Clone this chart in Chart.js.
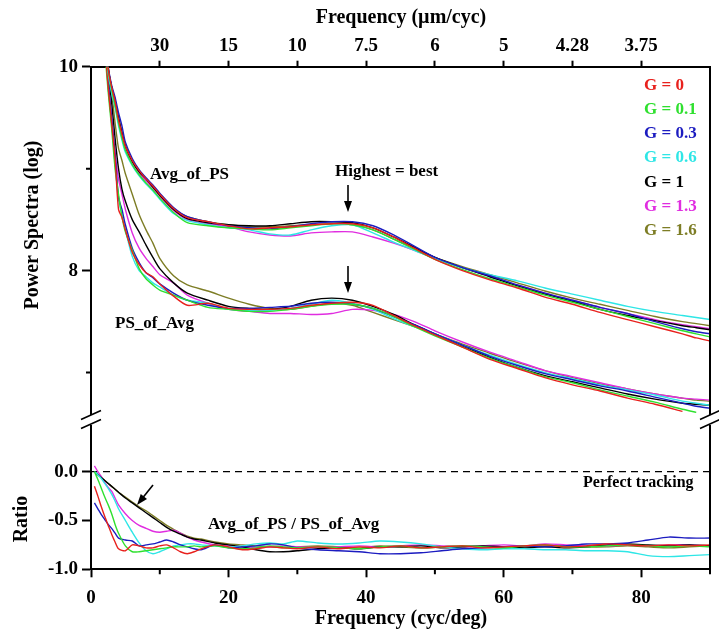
<!DOCTYPE html>
<html>
<head>
<meta charset="utf-8">
<script src="https://cdn.jsdelivr.net/npm/chart.js@4.4.1/dist/chart.umd.min.js"></script>
<style>
  html, body { margin: 0; padding: 0; background: #fff; }
  #wrap { width: 719px; height: 634px; }
</style>
</head>
<body>
<div id="wrap"><canvas id="psd_chart"></canvas></div>
<script>
// ---- data ----
const gains = ['G = 0', 'G = 0.1', 'G = 0.3', 'G = 0.6', 'G = 1', 'G = 1.3', 'G = 1.6'];
const colors = ['#e8211d', '#2fe02f', '#1c1cc0', '#2ee6e6', '#000000', '#e02de0', '#7d7d25'];

// spatial frequency (cyc/deg) for the spectra
const freqPS = [1.5, 2, 2.5, 3, 3.5, 4, 4.5, 5, 6, 7, 8, 9, 10, 12, 14, 17, 20, 23, 26, 29, 32, 35, 38, 41, 44, 47, 50, 54, 58, 62, 66, 70, 74, 78, 82, 86, 88, 90];

// Avg_of_PS (log power)
const avgPS_G0   = [10.9, 10.35, 9.98, 9.8, 9.66, 9.48, 9.34, 9.22, 9.08, 8.98, 8.9, 8.83, 8.75, 8.61, 8.52, 8.48, 8.44, 8.41, 8.42, 8.43, 8.45, 8.46, 8.46, 8.42, 8.33, 8.22, 8.11, 8.0, 7.91, 7.83, 7.74, 7.67, 7.59, 7.52, 7.45, 7.38, 7.34, 7.31];
const avgPS_G01  = [10.9, 10.32, 9.96, 9.78, 9.62, 9.45, 9.3, 9.18, 9.04, 8.94, 8.86, 8.79, 8.71, 8.57, 8.47, 8.44, 8.42, 8.41, 8.4, 8.42, 8.44, 8.46, 8.45, 8.4, 8.31, 8.21, 8.11, 8.01, 7.92, 7.84, 7.76, 7.69, 7.62, 7.55, 7.48, 7.41, 7.38, 7.35];
const avgPS_G03  = [10.9, 10.4, 10.0, 9.82, 9.7, 9.55, 9.42, 9.26, 9.1, 8.99, 8.91, 8.84, 8.76, 8.62, 8.53, 8.48, 8.44, 8.42, 8.41, 8.43, 8.46, 8.48, 8.48, 8.44, 8.35, 8.24, 8.13, 8.03, 7.95, 7.86, 7.78, 7.71, 7.64, 7.58, 7.5, 7.43, 7.4, 7.38];
const avgPS_G06  = [10.9, 10.3, 9.94, 9.74, 9.6, 9.42, 9.28, 9.16, 9.03, 8.93, 8.85, 8.78, 8.7, 8.56, 8.49, 8.45, 8.42, 8.4, 8.36, 8.35, 8.4, 8.44, 8.45, 8.37, 8.28, 8.2, 8.12, 8.03, 7.96, 7.9, 7.83, 7.77, 7.71, 7.65, 7.6, 7.56, 7.54, 7.52];
const avgPS_G1   = [10.9, 10.35, 9.98, 9.8, 9.67, 9.5, 9.35, 9.22, 9.07, 8.97, 8.9, 8.82, 8.74, 8.6, 8.51, 8.47, 8.45, 8.44, 8.44, 8.46, 8.48, 8.48, 8.47, 8.42, 8.33, 8.23, 8.13, 8.03, 7.94, 7.85, 7.77, 7.7, 7.62, 7.56, 7.51, 7.46, 7.44, 7.42];
const avgPS_G13  = [10.9, 10.33, 9.97, 9.78, 9.64, 9.46, 9.32, 9.2, 9.06, 8.96, 8.88, 8.81, 8.73, 8.59, 8.5, 8.46, 8.43, 8.38, 8.35, 8.34, 8.37, 8.38, 8.38, 8.33, 8.27, 8.2, 8.12, 8.03, 7.94, 7.86, 7.78, 7.71, 7.64, 7.58, 7.52, 7.47, 7.45, 7.43];
const avgPS_G16  = [10.9, 10.36, 9.99, 9.8, 9.66, 9.5, 9.36, 9.23, 9.08, 8.98, 8.9, 8.83, 8.75, 8.61, 8.53, 8.48, 8.45, 8.43, 8.43, 8.44, 8.45, 8.46, 8.45, 8.4, 8.31, 8.22, 8.13, 8.04, 7.96, 7.88, 7.8, 7.73, 7.67, 7.61, 7.55, 7.5, 7.48, 7.46];

// PS_of_Avg (log power)
const psAvg_G0   = [11.0, 10.25, 9.8, 9.45, 9.1, 8.6, 8.52, 8.4, 8.18, 8.06, 7.98, 7.94, 7.87, 7.75, 7.66, 7.68, 7.63, 7.62, 7.62, 7.63, 7.66, 7.68, 7.69, 7.66, 7.56, 7.46, 7.37, 7.25, 7.13, 7.04, 6.95, 6.88, 6.82, 6.75, 6.69, 6.62, null, null];
const psAvg_G01  = [11.0, 10.2, 9.75, 9.4, 9.0, 8.75, 8.53, 8.38, 8.2, 8.02, 7.92, 7.86, 7.81, 7.76, 7.71, 7.64, 7.62, 7.6, 7.6, 7.62, 7.65, 7.67, 7.67, 7.63, 7.55, 7.45, 7.36, 7.25, 7.14, 7.05, 6.96, 6.9, 6.83, 6.77, 6.71, 6.64, 6.61, null];
const psAvg_G03  = [11.0, 10.3, 9.85, 9.5, 9.15, 8.72, 8.6, 8.45, 8.22, 8.08, 7.98, 7.93, 7.87, 7.78, 7.71, 7.66, 7.63, 7.63, 7.64, 7.65, 7.68, 7.69, 7.67, 7.63, 7.55, 7.47, 7.38, 7.27, 7.16, 7.07, 6.99, 6.93, 6.87, 6.82, 6.76, 6.7, 6.67, 6.65];
const psAvg_G06  = [11.0, 10.25, 9.8, 9.45, 9.05, 8.7, 8.55, 8.4, 8.14, 8.0, 7.94, 7.88, 7.84, 7.76, 7.71, 7.68, 7.62, 7.61, 7.61, 7.63, 7.67, 7.71, 7.68, 7.62, 7.53, 7.45, 7.38, 7.27, 7.17, 7.08, 7.0, 6.94, 6.88, 6.83, 6.78, 6.72, 6.7, 6.68];
const psAvg_G1   = [11.0, 10.4, 9.95, 9.65, 9.3, 9.0, 8.8, 8.68, 8.5, 8.38, 8.25, 8.13, 8.02, 7.88, 7.78, 7.71, 7.65, 7.63, 7.62, 7.65, 7.71, 7.73, 7.71, 7.65, 7.57, 7.47, 7.38, 7.26, 7.15, 7.05, 6.97, 6.91, 6.85, 6.79, 6.74, 6.7, 6.69, 6.68];
const psAvg_G13  = [11.0, 10.3, 9.85, 9.5, 9.15, 8.9, 8.75, 8.6, 8.37, 8.22, 8.12, 8.04, 7.96, 7.88, 7.76, 7.68, 7.62, 7.6, 7.58, 7.58, 7.57, 7.58, 7.62, 7.61, 7.57, 7.5, 7.41, 7.3, 7.2, 7.11, 7.02, 6.96, 6.9, 6.84, 6.79, 6.75, 6.74, 6.73];
const psAvg_G16  = [11.0, 10.45, 10.0, 9.75, 9.45, 9.2, 9.08, 8.95, 8.75, 8.55, 8.4, 8.27, 8.12, 7.95, 7.86, 7.8, 7.73, 7.67, 7.63, 7.62, 7.65, 7.68, 7.66, 7.59, 7.52, 7.45, 7.38, 7.28, 7.19, 7.1, 7.02, 6.95, 6.89, 6.84, 6.79, 6.75, 6.73, 6.72];

// ratio Avg_of_PS / PS_of_Avg
const freqRatio = [0.5, 1, 1.5, 2, 2.5, 3, 3.5, 4, 5, 6, 7, 8, 9, 10, 11, 12, 13, 14, 15, 16, 18, 20, 22, 24, 26, 28, 30, 33, 36, 39, 42, 45, 48, 51, 54, 57, 60, 63, 66, 69, 72, 75, 78, 81, 84, 87, 90];
const ratio_G0   = [-0.15, -0.25, -0.36, -0.46, -0.55, -0.64, -0.72, -0.79, -0.81, -0.75, -0.76, -0.78, -0.78, -0.76, -0.75, -0.78, -0.82, -0.84, -0.82, -0.79, -0.75, -0.77, -0.8, -0.79, -0.77, -0.78, -0.79, -0.77, -0.79, -0.77, -0.78, -0.76, -0.78, -0.77, -0.76, -0.78, -0.77, -0.76, -0.75, -0.77, -0.76, -0.74, -0.75, -0.76, -0.75, -0.76, -0.75];
const ratio_G01  = [0.0, -0.08, -0.17, -0.26, -0.34, -0.43, -0.54, -0.63, -0.76, -0.82, -0.82, -0.81, -0.8, -0.79, -0.78, -0.77, -0.77, -0.77, -0.76, -0.77, -0.76, -0.78, -0.79, -0.78, -0.76, -0.77, -0.78, -0.77, -0.78, -0.79, -0.77, -0.76, -0.78, -0.77, -0.76, -0.77, -0.78, -0.76, -0.75, -0.77, -0.77, -0.76, -0.75, -0.76, -0.77, -0.76, -0.77];
const ratio_G03  = [-0.32, -0.38, -0.44, -0.49, -0.54, -0.58, -0.63, -0.68, -0.7, -0.71, -0.76, -0.75, -0.74, -0.72, -0.7, -0.72, -0.75, -0.77, -0.79, -0.8, -0.75, -0.78, -0.77, -0.76, -0.74, -0.75, -0.78, -0.8, -0.81, -0.82, -0.84, -0.84, -0.83, -0.81, -0.79, -0.78, -0.77, -0.76, -0.77, -0.76, -0.74, -0.74, -0.73, -0.7, -0.67, -0.68, -0.68];
const ratio_G06  = [0.0, -0.03, -0.07, -0.12, -0.17, -0.23, -0.3, -0.38, -0.5, -0.62, -0.73, -0.81, -0.84, -0.82, -0.79, -0.76, -0.75, -0.74, -0.74, -0.75, -0.76, -0.77, -0.76, -0.74, -0.73, -0.74, -0.71, -0.73, -0.74, -0.73, -0.71, -0.72, -0.74, -0.77, -0.79, -0.8, -0.79, -0.79, -0.8, -0.8, -0.81, -0.81, -0.82, -0.86, -0.87, -0.86, -0.85];
const ratio_G1   = [0.0, -0.03, -0.06, -0.09, -0.12, -0.15, -0.18, -0.21, -0.27, -0.32, -0.37, -0.42, -0.47, -0.52, -0.57, -0.61, -0.64, -0.67, -0.69, -0.7, -0.73, -0.75, -0.77, -0.8, -0.82, -0.82, -0.81, -0.79, -0.78, -0.79, -0.77, -0.77, -0.76, -0.78, -0.77, -0.76, -0.77, -0.78, -0.77, -0.78, -0.77, -0.75, -0.74, -0.75, -0.76, -0.75, -0.76];
const ratio_G13  = [0.06, 0.0, -0.05, -0.11, -0.16, -0.2, -0.27, -0.34, -0.43, -0.5, -0.55, -0.58, -0.61, -0.62, -0.61, -0.6, -0.63, -0.67, -0.7, -0.72, -0.75, -0.76, -0.77, -0.78, -0.77, -0.76, -0.77, -0.78, -0.77, -0.76, -0.77, -0.76, -0.75, -0.76, -0.77, -0.76, -0.75, -0.76, -0.74, -0.75, -0.76, -0.76, -0.75, -0.76, -0.75, -0.75, -0.76];
const ratio_G16  = [0.0, -0.03, -0.06, -0.09, -0.12, -0.15, -0.18, -0.21, -0.26, -0.31, -0.36, -0.4, -0.45, -0.5, -0.55, -0.59, -0.63, -0.66, -0.68, -0.69, -0.72, -0.74, -0.75, -0.76, -0.77, -0.78, -0.77, -0.76, -0.77, -0.78, -0.76, -0.77, -0.78, -0.77, -0.76, -0.77, -0.78, -0.77, -0.76, -0.76, -0.77, -0.77, -0.76, -0.77, -0.78, -0.77, -0.76];

// top axis: µm/cyc labels placed at cyc/deg positions
const topTickPos = [10, 20, 30, 40, 50, 60, 70, 80];
const topTickLabels = ['30', '15', '10', '7.5', '6', '5', '4.28', '3.75'];

const avgPSSeries = [avgPS_G0, avgPS_G01, avgPS_G03, avgPS_G06, avgPS_G1, avgPS_G13, avgPS_G16];
const psAvgSeries = [psAvg_G0, psAvg_G01, psAvg_G03, psAvg_G06, psAvg_G1, psAvg_G13, psAvg_G16];
const ratioSeries = [ratio_G0, ratio_G01, ratio_G03, ratio_G06, ratio_G1, ratio_G13, ratio_G16];

const FONT = "'Liberation Serif', 'Times New Roman', serif";

const toPoints = (xs, ys) => ys.map((y, i) => ({ x: xs[i], y: y }));

const datasets = [];
const addGroup = (series, xs, yAxis) => {
	series.forEach((ys, i) => {
		datasets.push({
			label: gains[i],
			data: toPoints(xs, ys),
			yAxisID: yAxis,
			borderColor: colors[i],
			borderWidth: 1.4,
			pointRadius: 0,
			tension: 0.25,
			spanGaps: false
		});
	});
};
addGroup(avgPSSeries, freqPS, 'y');
addGroup(psAvgSeries, freqPS, 'y');
addGroup(ratioSeries, freqRatio, 'y2');

// perfect tracking reference line
datasets.push({
	label: 'Perfect tracking',
	data: [{ x: 0, y: 0 }, { x: 90, y: 0 }],
	yAxisID: 'y2',
	borderColor: '#000',
	borderWidth: 1.3,
	borderDash: [7, 5],
	pointRadius: 0
});

const isMajorY = (v) => Math.abs(v - Math.round(v / 2) * 2) < 1e-6;
const isMajorY2 = (v) => Math.abs(v * 2 - Math.round(v * 2)) < 1e-6;

const tickFont = { family: FONT, size: 19, weight: 'bold' };

// short minor ticks + break marks + right frame + texts
const decorations = {
	id: 'decorations',
	afterDraw(chart) {
		const ctx = chart.ctx;
		const a = chart.chartArea;
		const sx = chart.scales.x, sy = chart.scales.y, sy2 = chart.scales.y2;
		ctx.save();
		ctx.strokeStyle = '#000';
		ctx.lineWidth = 2;

		// minor ticks
		ctx.beginPath();
		sx.ticks.forEach(t => {
			if (t.value % 20 !== 0) {
				const px = sx.getPixelForValue(t.value);
				ctx.moveTo(px, a.bottom); ctx.lineTo(px, a.bottom + 5);
			}
		});
		sy.ticks.forEach(t => {
			if (!isMajorY(t.value)) {
				const py = sy.getPixelForValue(t.value);
				ctx.moveTo(a.left, py); ctx.lineTo(a.left - 5, py);
			}
		});
		sy2.ticks.forEach(t => {
			if (!isMajorY2(t.value)) {
				const py = sy2.getPixelForValue(t.value);
				ctx.moveTo(a.left, py); ctx.lineTo(a.left - 5, py);
			}
		});
		// right frame
		ctx.moveTo(a.right, a.top); ctx.lineTo(a.right, a.bottom);
		ctx.stroke();

		// axis break
		const brk = sy.bottom + 0.5;
		ctx.fillStyle = '#fff';
		ctx.fillRect(a.left - 3, brk - 5, 6, 10);
		ctx.fillRect(a.right - 3, brk - 5, 6, 10);
		ctx.lineWidth = 1.6;
		ctx.beginPath();
		[a.left, a.right].forEach(x0 => {
			ctx.moveTo(x0 - 10, brk - 0.5); ctx.lineTo(x0 + 10, brk - 9.5);
			ctx.moveTo(x0 - 10, brk + 8.5); ctx.lineTo(x0 + 10, brk - 0.5);
		});
		ctx.stroke();

		// legend
		ctx.textAlign = 'left';
		ctx.textBaseline = 'middle';
		ctx.font = "bold 17px " + FONT;
		gains.forEach((g, i) => {
			ctx.fillStyle = colors[i];
			ctx.fillText(g, 644, 85.5 + i * 24.2);
		});

		// axis titles
		ctx.fillStyle = '#000';
		ctx.textAlign = 'center';
		ctx.font = "bold 20px " + FONT;
		ctx.fillText('Frequency (\u00b5m/cyc)', 401, 18);
		ctx.fillText('Frequency (cyc/deg)', 401, 619);
		ctx.save();
		ctx.translate(33, 225);
		ctx.rotate(-Math.PI / 2);
		ctx.fillText('Power Spectra (log)', 0, 0);
		ctx.restore();
		ctx.save();
		ctx.translate(22, 519);
		ctx.rotate(-Math.PI / 2);
		ctx.fillText('Ratio', 0, 0);
		ctx.restore();

		// annotations
		ctx.textAlign = 'left';
		ctx.font = "bold 17px " + FONT;
		ctx.fillText('Avg_of_PS', 150, 175);
		ctx.fillText('Highest = best', 335, 172);
		ctx.fillText('PS_of_Avg', 115, 324);
		ctx.fillText('Avg_of_PS / PS_of_Avg', 208, 525);
		ctx.font = "bold 16px " + FONT;
		ctx.fillText('Perfect tracking', 583, 483);

		// arrows
		const arrow = (x1, y1, x2, y2) => {
			const ang = Math.atan2(y2 - y1, x2 - x1);
			ctx.lineWidth = 1.6;
			ctx.beginPath();
			ctx.moveTo(x1, y1);
			ctx.lineTo(x2 - 6 * Math.cos(ang), y2 - 6 * Math.sin(ang));
			ctx.stroke();
			ctx.beginPath();
			ctx.moveTo(x2, y2);
			ctx.lineTo(x2 - 11 * Math.cos(ang) + 4 * Math.sin(ang), y2 - 11 * Math.sin(ang) - 4 * Math.cos(ang));
			ctx.lineTo(x2 - 11 * Math.cos(ang) - 4 * Math.sin(ang), y2 - 11 * Math.sin(ang) + 4 * Math.cos(ang));
			ctx.closePath();
			ctx.fill();
		};
		arrow(348, 185, 348, 212);
		arrow(348, 266, 348, 293);
		arrow(153, 485, 137, 505);

		ctx.restore();
	}
};

const config = {
	type: 'line',
	data: { datasets: datasets },
	options: {
		responsive: true,
		maintainAspectRatio: false,
		animation: false,
		layout: { padding: { left: 0, right: 7, top: 0, bottom: 0 } },
		plugins: {
			legend: { display: false },
			tooltip: { enabled: false }
		},
		scales: {
			x: {
				type: 'linear',
				position: 'bottom',
				min: 0,
				max: 90,
				ticks: {
					stepSize: 10,
					autoSkip: false,
					maxRotation: 0,
					padding: 9,
					color: '#000',
					font: tickFont,
					callback: (v) => (v % 20 === 0 && v < 90) ? String(v) : ''
				},
				grid: {
					drawOnChartArea: false,
					tickLength: 8,
					tickWidth: 2,
					tickColor: (c) => (c.tick && c.tick.value % 20 === 0) ? '#000' : 'rgba(0,0,0,0)'
				},
				border: { color: '#000', width: 2 },
				afterFit: (s) => { s.height = 64.7; }
			},
			x2: {
				type: 'linear',
				position: 'top',
				min: 0,
				max: 90,
				afterBuildTicks: (s) => { s.ticks = topTickPos.map(v => ({ value: v })); },
				ticks: {
					autoSkip: false,
					maxRotation: 0,
					padding: 3,
					color: '#000',
					font: tickFont,
					callback: (v) => topTickLabels[topTickPos.indexOf(v)]
				},
				grid: { drawOnChartArea: false, tickLength: 6, tickWidth: 2, tickColor: '#000' },
				border: { color: '#000', width: 2 },
				afterFit: (s) => { s.height = 66.7; }
			},
			y: {
				type: 'linear',
				position: 'left',
				stack: 'panels',
				stackWeight: 352.8,
				weight: 1,
				min: 6.54,
				max: 10,
				ticks: {
					stepSize: 1,
					includeBounds: false,
					padding: 4,
					color: '#000',
					font: tickFont,
					callback: (v) => isMajorY(v) ? String(v) : ''
				},
				grid: {
					drawOnChartArea: false,
					tickLength: 9,
					tickWidth: 2,
					tickColor: (c) => (c.tick && isMajorY(c.tick.value)) ? '#000' : 'rgba(0,0,0,0)'
				},
				border: { color: '#000', width: 2 },
				afterFit: (s) => { s.width = 91; }
			},
			y2: {
				type: 'linear',
				position: 'left',
				stack: 'panels',
				stackWeight: 149.8,
				weight: 0,
				min: -1,
				max: 0.535,
				ticks: {
					stepSize: 0.25,
					includeBounds: false,
					padding: 4,
					color: '#000',
					font: tickFont,
					callback: (v) => isMajorY2(v) && v <= 0 ? v.toFixed(1) : ''
				},
				grid: {
					drawOnChartArea: false,
					tickLength: 9,
					tickWidth: 2,
					tickColor: (c) => (c.tick && isMajorY2(c.tick.value) && c.tick.value <= 0) ? '#000' : 'rgba(0,0,0,0)'
				},
				border: { color: '#000', width: 2 },
				afterFit: (s) => { s.width = 91; }
			}
		}
	},
	plugins: [decorations]
};

var ctx = document.getElementById('psd_chart');
if (ctx != null) {
	const chart = new Chart(ctx, config);
}
</script>
</body>
</html>
